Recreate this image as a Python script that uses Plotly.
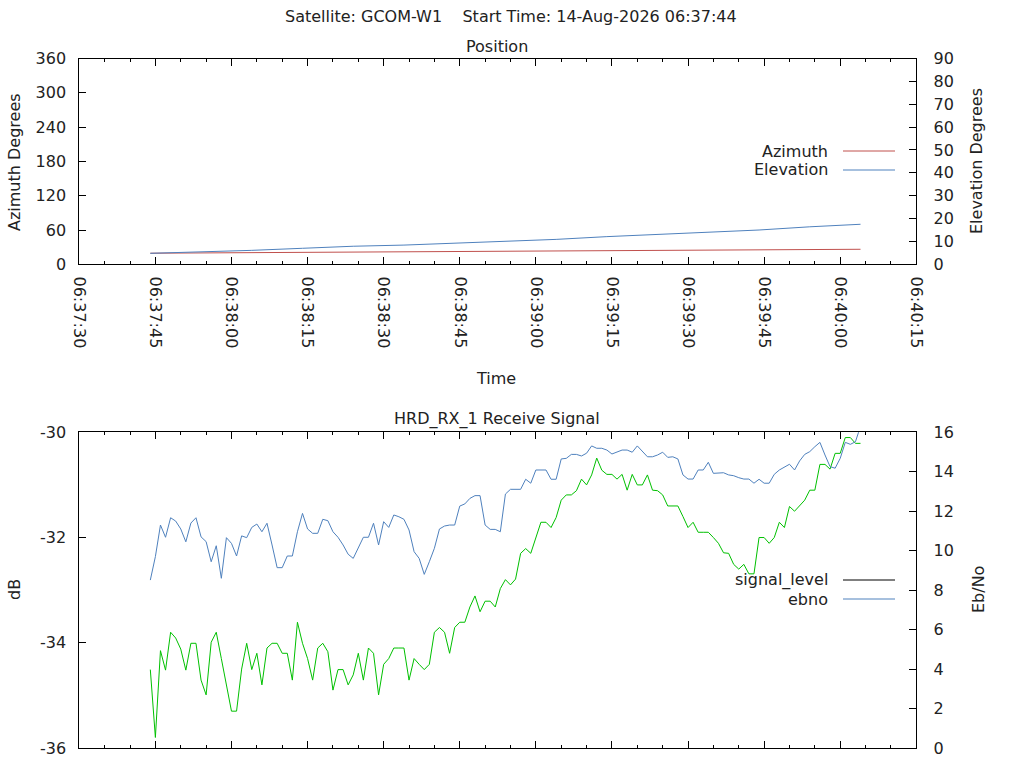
import pandas as pd
import plotly.graph_objects as go

# pass info
satellite = 'GCOM-W1'
start_time = '14-Aug-2026 06:37:44'
t_origin = pd.Timestamp('2026-08-14 06:37:30')
t_end = pd.Timestamp('2026-08-14 06:40:15')

# position samples (seconds after 06:37:30)
pos_time_s = [14, 24, 34, 44, 54, 64, 74, 84, 94, 104, 114, 124, 134, 144, 154]
azimuth = [19.4, 19.9, 20.4, 20.9, 21.4, 21.9, 22.4, 22.9, 23.4, 23.9, 24.4,
           24.9, 25.4, 25.9, 26.3]
elevation = [4.8, 5.3, 6.1, 7.0, 7.9, 8.4, 9.2, 10.3, 10.9, 12.1, 13.1, 14.1,
             15.0, 16.4, 17.5]

# receive signal samples, one per second from 14 s to 154 s after 06:37:30
sig_time_s = list(range(14, 155))
signal_level = [
    -34.51, -35.80, -34.15, -34.52, -33.80, -33.91, -34.12, -34.52, -34.01, -34.01,
    -34.71, -34.99, -33.99, -33.80, -34.30, -34.80, -35.30, -35.30, -34.50, -34.01,
    -34.51, -34.20, -34.80, -34.10, -34.01, -34.01, -34.20, -34.20, -34.71, -33.61,
    -34.01, -34.30, -34.71, -34.10, -34.01, -34.17, -34.90, -34.51, -34.51, -34.80,
    -34.61, -34.20, -34.71, -34.10, -34.20, -34.99, -34.41, -34.30, -34.10, -34.10,
    -34.10, -34.71, -34.30, -34.41, -34.51, -34.41, -33.80, -33.71, -33.80, -34.20,
    -33.71, -33.61, -33.61, -33.32, -33.11, -33.41, -33.21, -33.21, -33.32, -32.97,
    -32.80, -32.90, -32.79, -32.30, -32.21, -32.30, -32.02, -31.71, -31.71, -31.81,
    -31.62, -31.29, -31.19, -31.19, -31.11, -30.89, -31.00, -30.81, -30.49, -30.72,
    -30.80, -30.80, -30.89, -30.80, -31.10, -30.80, -31.00, -31.00, -30.81, -31.10,
    -31.11, -31.19, -31.40, -31.40, -31.40, -31.60, -31.81, -31.71, -31.90, -31.90,
    -31.90, -32.00, -32.11, -32.29, -32.30, -32.51, -32.60, -32.51, -32.69, -32.69,
    -32.00, -32.00, -32.11, -32.00, -31.71, -31.81, -31.41, -31.50, -31.40, -31.29,
    -31.10, -31.10, -30.61, -30.61, -30.70, -30.40, -30.40, -30.10, -30.10, -30.21,
    -30.21]
ebno = [
    8.51, 9.70, 11.30, 10.68, 11.67, 11.50, 11.10, 10.45, 11.40, 11.67,
    10.70, 10.46, 9.44, 10.25, 8.60, 10.66, 10.37, 9.73, 10.75, 10.66,
    11.18, 11.35, 10.96, 11.39, 10.29, 9.14, 9.14, 9.73, 9.73, 10.96,
    11.89, 11.10, 10.88, 10.88, 11.59, 11.52, 10.96, 10.68, 10.29, 9.82,
    9.61, 10.12, 10.68, 10.68, 11.39, 10.29, 11.47, 11.18, 11.81, 11.72,
    11.59, 11.05, 9.95, 9.61, 8.80, 9.44, 10.12, 11.10, 11.25, 11.30,
    11.30, 12.26, 12.37, 12.65, 12.79, 12.79, 11.30, 11.08, 11.08, 10.96,
    12.87, 13.11, 13.11, 13.11, 13.62, 13.42, 14.09, 14.09, 14.09, 13.62,
    13.62, 14.65, 14.68, 14.88, 14.88, 14.80, 14.94, 15.31, 15.19, 15.19,
    15.10, 14.90, 15.02, 15.10, 15.10, 14.99, 15.31, 15.05, 14.76, 14.76,
    14.85, 14.99, 14.73, 14.76, 14.65, 13.84, 13.63, 13.63, 14.09, 14.09,
    14.48, 13.92, 13.92, 13.95, 13.84, 13.80, 13.70, 13.63, 13.63, 13.42,
    13.62, 13.42, 13.42, 13.87, 14.09, 14.23, 14.38, 14.09, 14.55, 14.88,
    15.02, 15.27, 15.49, 14.85, 14.26, 14.18, 14.68, 15.49, 15.39, 15.52,
    16.30]

# dB tick labels written with a plain hyphen, as in the original
db_ticks = [-36, -34, -32, -30]
db_ticktext = ['-36', '-34', '-32', '-30']

pos_time = t_origin + pd.to_timedelta(pos_time_s, unit='s')
sig_time = t_origin + pd.to_timedelta(sig_time_s, unit='s')

W, H = 1024, 768
FONT = dict(family='DejaVu Sans', size=16, color='#222222')
RED, BLUE, GREEN = '#c0504d', '#4f81bd', '#00c000'

x_dom = [79.3 / W, 916.3 / W]
top_dom = [1 - 264.3 / H, 1 - 58.5 / H]
bot_dom = [1 - 748.0 / H, 1 - 432.3 / H]


def px(x):
    return x / W


def py(y):
    return 1 - y / H


fig = go.Figure()
fig.add_trace(go.Scatter(x=pos_time, y=azimuth, mode='lines', name='Azimuth',
                         line=dict(color=RED, width=1), xaxis='x', yaxis='y'))
fig.add_trace(go.Scatter(x=pos_time, y=elevation, mode='lines', name='Elevation',
                         line=dict(color=BLUE, width=1), xaxis='x', yaxis='y2'))
fig.add_trace(go.Scatter(x=sig_time, y=signal_level, mode='lines', name='signal_level',
                         line=dict(color=GREEN, width=1), xaxis='x2', yaxis='y3'))
fig.add_trace(go.Scatter(x=sig_time, y=ebno, mode='lines', name='ebno',
                         line=dict(color=BLUE, width=1), xaxis='x2', yaxis='y4'))
# empty traces so the top tick axes get drawn
fig.add_trace(go.Scatter(x=[], y=[], xaxis='x3', yaxis='y', hoverinfo='skip'))
fig.add_trace(go.Scatter(x=[], y=[], xaxis='x4', yaxis='y3', hoverinfo='skip'))

axis = dict(showline=True, linecolor='black', linewidth=1, ticks='inside',
            ticklen=7, tickcolor='black', showgrid=False, zeroline=False,
            tickfont=FONT)
xcommon = dict(axis, type='date', domain=x_dom, range=[t_origin, t_end],
               tick0=t_origin, dtick=15000, tickformat='%H:%M:%S', mirror=True,
               minor=dict(tick0=t_origin, dtick=5000, ticks='inside', ticklen=3,
                          tickcolor='black'))

fig.update_layout(
    width=W, height=H,
    paper_bgcolor='white', plot_bgcolor='white',
    margin=dict(l=0, r=0, t=0, b=0, autoexpand=False),
    showlegend=False,
    font=FONT,
    xaxis=dict(xcommon, anchor='y', tickangle=90, ticklabelstandoff=8),
    xaxis3=dict(xcommon, anchor='y', overlaying='x', side='top',
                showticklabels=False),
    yaxis=dict(axis, domain=top_dom, anchor='x', range=[0, 360], dtick=60,
               ticklabelstandoff=9),
    yaxis2=dict(axis, overlaying='y', side='right', anchor='x', range=[0, 90],
                dtick=10, ticklabelstandoff=13),
    xaxis2=dict(xcommon, anchor='y3', showticklabels=False),
    xaxis4=dict(xcommon, anchor='y3', overlaying='x2', side='top',
                showticklabels=False),
    yaxis3=dict(axis, domain=bot_dom, anchor='x2', range=[-36, -30],
                tickvals=db_ticks, ticktext=db_ticktext, ticklabelstandoff=9),
    yaxis4=dict(axis, overlaying='y3', side='right', anchor='x2', range=[0, 16],
                dtick=2, ticklabelstandoff=13),
)

# titles and axis labels
texts = [
    ('Satellite: ' + satellite + '    Start Time: ' + start_time, 511, 17, 0),
    ('Position', 497, 46, 0),
    ('HRD_RX_1 Receive Signal', 497, 419, 0),
    ('Time', 496, 379, 0),
    ('Azimuth Degrees', 14, 162, -90),
    ('Elevation Degrees', 977, 161, -90),
    ('dB', 14, 590, -90),
    ('Eb/No', 978, 590, -90),
]
for txt, x, y, ang in texts:
    fig.add_annotation(text=txt, x=px(x), y=py(y), xref='paper', yref='paper',
                       showarrow=False, textangle=ang, font=FONT,
                       xanchor='center', yanchor='middle')

# gnuplot style keys: label on the left, sample line on the right
keys = [('Azimuth', RED, 151), ('Elevation', BLUE, 170),
        ('signal_level', 'black', 580), ('ebno', BLUE, 599)]
for name, color, y in keys:
    fig.add_annotation(text=name, x=px(830), y=py(y), xref='paper', yref='paper',
                       showarrow=False, font=FONT, xanchor='right', yanchor='middle')
    fig.add_shape(type='line', xref='paper', yref='paper', x0=px(843), x1=px(895),
                  y0=py(y), y1=py(y), line=dict(color=color, width=1))

# drop the browser's default page margin so the figure sits at the window origin
fig.write_html('out.html', config={'displayModeBar': False},
               post_script="document.body.style.margin='0px';")
